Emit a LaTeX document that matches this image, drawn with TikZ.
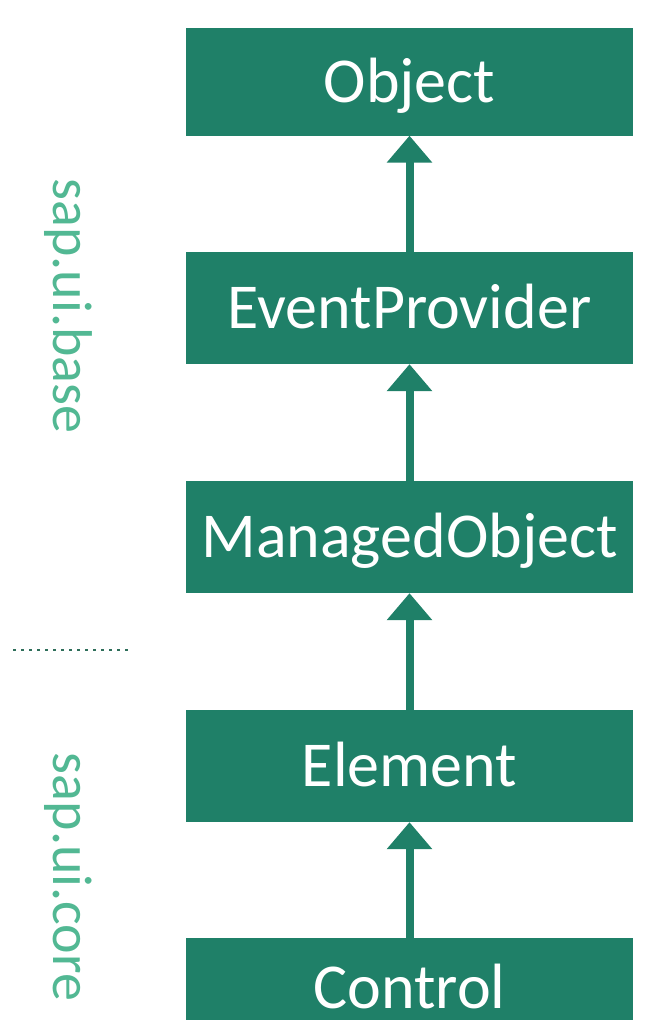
\documentclass[tikz,border=0pt]{standalone}
\usepackage{fontspec}
\setmainfont{Carlito}
\usetikzlibrary{arrows.meta}
\definecolor{boxgreen}{HTML}{1F8068}
\definecolor{sidegreen}{HTML}{52B893}
\definecolor{dotgreen}{HTML}{2E6E5A}

\begin{document}
\begin{tikzpicture}[x=1pt,y=-1pt,
    cls/.style={rectangle,fill=boxgreen,text=white,minimum width=447pt,
        inner sep=0pt,text height=41pt,text depth=0pt,
        font=\fontsize{64}{72}\selectfont},
    pkg/.style={rotate=-90,text=sidegreen,font=\fontsize{56}{64}\selectfont},
    inh/.style={draw=boxgreen,line width=8pt,-{Triangle[width=44pt,length=27pt]}}]
    \useasboundingbox(0,0)rectangle(647,1020);
    % class boxes
    \node[cls,minimum height=108pt](obj)at(409.5,81.5){Object};
    \node[cls,minimum height=112pt](evp)at(409.5,308){EventProvider};
    \node[cls,minimum height=112pt](mob)at(409.5,537){ManagedObject};
    \node[cls,minimum height=112pt](elm)at(409.5,766){Element};
    \node[cls,minimum height=82pt,text height=58pt](ctl)at(409.5,979){Control};
    % inheritance arrows
    \draw[inh](evp.north)--(obj.south);
    \draw[inh](mob.north)--(evp.south);
    \draw[inh](elm.north)--(mob.south);
    \draw[inh](ctl.north)--(elm.south);
    % package labels
    \node[pkg](base)at(68,306){sap.ui.base};
    \node[pkg](core)at(68,877){sap.ui.core};
    \coordinate(sepL)at(13,650);
    \coordinate(sepR)at(130,650);
    \draw[dotgreen,line width=2.5pt,dash pattern=on 2.5pt off 5.5pt](sepL)--(sepR);
\end{tikzpicture}
\end{document}
